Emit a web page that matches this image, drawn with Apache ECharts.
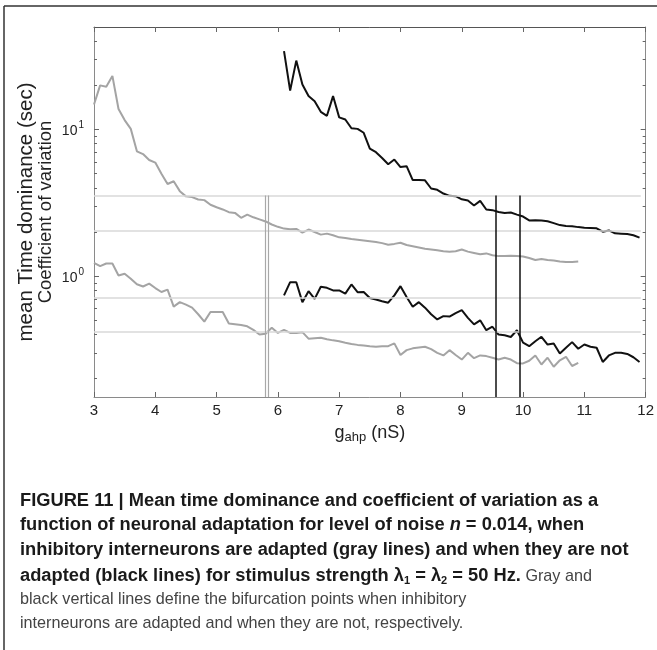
<!DOCTYPE html>
<html>
<head>
<meta charset="utf-8">
<script src="https://cdn.jsdelivr.net/npm/echarts@6/dist/echarts.min.js"></script>
<style>
  html, body { margin: 0; padding: 0; background: #fff; }
  #chart { width: 657px; height: 650px; }
</style>
</head>
<body>
<div id="chart"></div>
<script>
// g_ahp values (nS) for the adapted-interneuron runs (gray)
const grayX = [3.0,3.1,3.2,3.3,3.4,3.5,3.6,3.7,3.8,3.9,4.0,4.1,4.2,4.3,4.4,4.5,4.6,4.7,4.8,4.9,
  5.0,5.1,5.2,5.3,5.4,5.5,5.6,5.7,5.8,5.9,6.0,6.1,6.2,6.3,6.4,6.5,6.6,6.7,6.8,6.9,
  7.0,7.1,7.2,7.3,7.4,7.5,7.6,7.7,7.8,7.9,8.0,8.1,8.2,8.3,8.4,8.5,8.6,8.7,8.8,8.9,
  9.0,9.1,9.2,9.3,9.4,9.5,9.6,9.7,9.8,9.9,10.0,10.1,10.2,10.3,10.4,10.5,10.6,10.7,10.8,10.9];
// mean time dominance (sec), adapted
const grayMean = [14.8,20,19.6,23.2,13.8,11.6,10.1,7.1,6.8,6.2,5.95,5.0,4.25,4.44,3.8,3.5,3.46,3.33,3.3,3.07,
  2.95,2.85,2.73,2.70,2.50,2.63,2.52,2.44,2.36,2.25,2.17,2.11,2.09,2.10,1.98,2.08,2.0,1.92,1.95,1.90,
  1.84,1.82,1.79,1.77,1.75,1.73,1.71,1.68,1.64,1.66,1.69,1.63,1.60,1.57,1.54,1.52,1.50,1.48,1.47,1.48,
  1.52,1.47,1.44,1.41,1.43,1.39,1.37,1.37,1.38,1.37,1.36,1.33,1.29,1.31,1.29,1.28,1.26,1.25,1.25,1.26];
// coefficient of variation, adapted
const grayCV = [1.23,1.17,1.22,1.22,1.01,1.04,0.96,0.88,0.85,0.89,0.83,0.78,0.81,0.62,0.665,0.64,0.61,0.55,0.49,0.57,
  0.57,0.57,0.475,0.47,0.465,0.455,0.43,0.40,0.405,0.445,0.41,0.43,0.41,0.41,0.415,0.375,0.378,0.38,0.372,0.365,
  0.36,0.352,0.345,0.34,0.337,0.333,0.33,0.333,0.333,0.348,0.29,0.313,0.322,0.326,0.33,0.318,0.30,0.288,0.313,0.29,
  0.27,0.30,0.276,0.288,0.285,0.278,0.27,0.278,0.27,0.255,0.254,0.265,0.288,0.25,0.278,0.241,0.267,0.282,0.244,0.256];

// g_ahp values (nS) for the non-adapted runs (black)
const blackX = [6.1,6.2,6.3,6.4,6.5,6.6,6.7,6.8,6.9,7.0,7.1,7.2,7.3,7.4,7.5,7.6,7.7,7.8,7.9,8.0,
  8.1,8.2,8.3,8.4,8.5,8.6,8.7,8.8,8.9,9.0,9.1,9.2,9.3,9.4,9.5,9.6,9.7,9.8,9.9,10.0,
  10.1,10.2,10.3,10.4,10.5,10.6,10.7,10.8,10.9,11.0,11.1,11.2,11.3,11.4,11.5,11.6,11.7,11.8,11.9];
const blackMean = [34.2,18.4,29.5,20.3,16.9,15.6,13.2,12.4,16.9,12.1,11.7,10.2,10.1,9.5,7.4,7.0,6.4,5.8,6.24,5.55,
  5.62,4.52,4.52,4.5,3.96,3.88,3.66,3.53,3.51,3.34,3.28,3.03,3.26,2.85,2.82,2.74,2.70,2.72,2.63,2.55,
  2.40,2.41,2.40,2.37,2.30,2.23,2.20,2.19,2.16,2.14,2.13,2.12,2.01,2.05,1.96,1.95,1.94,1.90,1.83];
const blackCV = [0.74,0.91,0.91,0.665,0.79,0.70,0.847,0.833,0.80,0.80,0.76,0.878,0.778,0.78,0.71,0.694,0.675,0.659,0.74,0.855,
  0.72,0.618,0.665,0.61,0.55,0.507,0.534,0.53,0.56,0.586,0.52,0.469,0.50,0.428,0.452,0.40,0.395,0.385,0.428,0.352,
  0.333,0.36,0.386,0.342,0.348,0.297,0.325,0.355,0.32,0.342,0.33,0.325,0.26,0.288,0.30,0.30,0.295,0.28,0.26];

// horizontal reference levels and bifurcation points
const refLevels = [3.55, 2.03, 0.708, 0.418];
const grayBifurcation = [5.8, 5.85];
const blackBifurcation = [9.55, 9.95];

// axis ranges and ticks
const xMin = 3, xMax = 12, xStep = 1;
const yMin = 0.15, yMax = 50;
const yMajorTicks = [1, 10];
const yMinorTicks = [0.2,0.3,0.4,0.5,0.6,0.7,0.8,0.9,2,3,4,5,6,7,8,9,20,30,40];

const zip = (xs, ys) => xs.map((x, i) => [x, ys[i]]);

const AXIS_COLOR = '#8a8a8a';
const FONT = "'Liberation Sans', Arial, Helvetica, sans-serif";

function yAxisDef(position, ticks, len, showLabels, showLine) {
  return {
    type: 'log', logBase: 10, min: yMin, max: yMax, position,
    axisLine: { show: showLine, lineStyle: { color: AXIS_COLOR, width: 1 } },
    axisTick: { show: true, inside: true, length: len, customValues: ticks,
                lineStyle: { color: '#666', width: 1 } },
    minorTick: { show: false },
    splitLine: { show: false },
    axisLabel: showLabels ? {
      customValues: yMajorTicks, margin: 10,
      formatter: v => '{b|10}{s|' + Math.round(Math.log10(v)) + '}',
      rich: {
        b: { fontSize: 14, fontFamily: FONT, color: '#222', verticalAlign: 'bottom', lineHeight: 18 },
        s: { fontSize: 10, fontFamily: FONT, color: '#222', verticalAlign: 'top', lineHeight: 10, padding: [0, 0, 6, 1] }
      }
    } : { show: false }
  };
}

const vLine = (x, color, width) => [
  { coord: [x, refLevels[0]], lineStyle: { color, width, type: 'solid' } },
  { coord: [x, yMin] }
];
const hLine = (y) => [
  { coord: [xMin, y], lineStyle: { color: '#d9d9d9', width: 1.5, type: 'solid' } },
  { coord: [11.92, y] }
];

const chart = echarts.init(document.getElementById('chart'), null, { renderer: 'canvas' });

const CAP_FONT = FONT;
const captionLines = [
  '{b|FIGURE 11 | Mean time dominance and coefficient of variation as a}',
  '{b|function of neuronal adaptation for level of noise }{bi|n}{b| = 0.014, when}',
  '{b|inhibitory interneurons are adapted (gray lines) and when they are not}',
  '{b|adapted (black lines) for stimulus strength λ}{bs|1}{b| = λ}{bs|2}{b| = 50 Hz.}{n| Gray and}',
  '{n|black vertical lines define the bifurcation points when inhibitory}',
  '{n|interneurons are adapted and when they are not, respectively.}'
];

const option = {
  animation: false,
  backgroundColor: '#fff',
  grid: { left: 94, right: 11, top: 27, bottom: 253, containLabel: false },
  xAxis: [
    {
      type: 'value', min: xMin, max: xMax, interval: xStep, position: 'bottom',
      axisLine: { lineStyle: { color: AXIS_COLOR, width: 1 } },
      axisTick: { inside: true, length: 5, lineStyle: { color: '#666' } },
      splitLine: { show: false },
      axisLabel: { fontSize: 15, fontFamily: FONT, color: '#222', margin: 6 },
      name: '{g|g}{sub|ahp}{g| (nS)}',
      nameLocation: 'middle', nameGap: 27, nameMoveOverlap: false,
      nameTextStyle: {
        rich: {
          g: { fontSize: 18, fontFamily: FONT, color: '#222', verticalAlign: 'top', lineHeight: 20 },
          sub: { fontSize: 13, fontFamily: FONT, color: '#222', verticalAlign: 'bottom', lineHeight: 20, padding: [11, 0, 0, 0] }
        }
      }
    },
    {
      type: 'value', min: xMin, max: xMax, interval: xStep, position: 'top',
      axisLine: { lineStyle: { color: '#555', width: 1 } },
      axisTick: { inside: true, length: 5, lineStyle: { color: '#666' } },
      splitLine: { show: false },
      axisLabel: { show: false }
    }
  ],
  yAxis: [
    Object.assign(yAxisDef('left', yMajorTicks, 5, true, true), {
      name: '{t|mean Time dominance (sec)}\n{c|Coefficient of variation}',
      nameLocation: 'middle', nameGap: 39, nameRotate: 90, nameMoveOverlap: false,
      nameTextStyle: {
        align: 'center',
        rich: {
          t: { fontSize: 20.5, fontFamily: FONT, color: '#222', lineHeight: 19 },
          c: { fontSize: 18.5, fontFamily: FONT, color: '#222', lineHeight: 19 }
        }
      }
    }),
    yAxisDef('left', yMinorTicks, 3, false, false),
    yAxisDef('right', yMajorTicks, 5, false, true),
    yAxisDef('right', yMinorTicks, 3, false, false)
  ],
  series: [
    {
      type: 'line', name: 'guides', data: [], silent: true, z: 1,
      markLine: {
        silent: true, symbol: ['none', 'none'], label: { show: false },
        animation: false,
        data: refLevels.map(hLine)
      }
    },
    {
      type: 'line', name: 'bifurcations', data: [], silent: true, z: 5,
      markLine: {
        silent: true, symbol: ['none', 'none'], label: { show: false },
        animation: false,
        data: grayBifurcation.map(x => vLine(x, '#a8a8a8', 1.2))
          .concat(blackBifurcation.map(x => vLine(x, '#111', 1.5)))
      }
    },
    { type: 'line', name: 'adapted mean', data: zip(grayX, grayMean), showSymbol: false,
      lineStyle: { color: '#a4a4a4', width: 2 }, z: 3 },
    { type: 'line', name: 'adapted CV', data: zip(grayX, grayCV), showSymbol: false,
      lineStyle: { color: '#a4a4a4', width: 2 }, z: 3 },
    { type: 'line', name: 'non-adapted mean', data: zip(blackX, blackMean), showSymbol: false,
      lineStyle: { color: '#111', width: 2 }, z: 4 },
    { type: 'line', name: 'non-adapted CV', data: zip(blackX, blackCV), showSymbol: false,
      lineStyle: { color: '#111', width: 2 }, z: 4 }
  ],
  graphic: [
    // figure frame
    { type: 'line', shape: { x1: 4, y1: 6, x2: 657, y2: 6 }, style: { stroke: '#333', lineWidth: 1.5 } },
    { type: 'line', shape: { x1: 4, y1: 6, x2: 4, y2: 650 }, style: { stroke: '#333', lineWidth: 1.5 } },
    // caption
    ...captionLines.map((t, i) => ({
      type: 'text', left: 20, top: 491.5 + i * 24.9,
      style: {
        text: t,
        rich: {
          b: { fontSize: 18.3, fontWeight: 'bold', fontFamily: CAP_FONT, fill: '#1a1a1a', lineHeight: 22, verticalAlign: 'middle' },
          bi: { fontSize: 18.3, fontWeight: 'bold', fontStyle: 'italic', fontFamily: CAP_FONT, fill: '#1a1a1a', lineHeight: 22, verticalAlign: 'middle' },
          bs: { fontSize: 11, fontWeight: 'bold', fontFamily: CAP_FONT, fill: '#1a1a1a', lineHeight: 22, padding: [9, 0, 0, 0] },
          n: { fontSize: 16.2, fontFamily: CAP_FONT, fill: '#444', lineHeight: 22, verticalAlign: 'middle' }
        }
      }
    }))
  ]
};

chart.setOption(option);
</script>
</body>
</html>
